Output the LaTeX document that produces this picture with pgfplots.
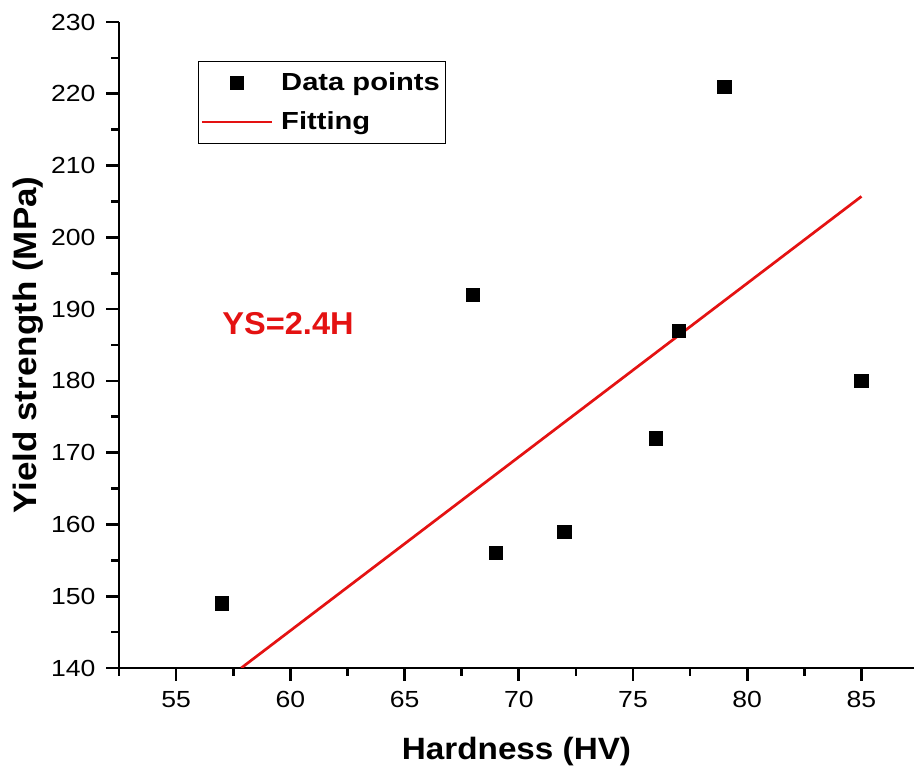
\documentclass[border=0pt]{standalone}
\usepackage{fontspec}
\setmainfont{Liberation Sans}
\newfontfamily\tickfont{Liberation Sans}[FakeStretch=1.14]
\newfontfamily\legfont{Liberation Sans}[FakeStretch=1.18]
\newfontfamily\labfont{Liberation Sans}[FakeStretch=1.08]
\newfontfamily\ysfont{Liberation Sans}[FakeStretch=1.03]
\usepackage{pgfplots}
\pgfplotsset{compat=1.18}
\definecolor{fitred}{RGB}{228,18,18}
\pgfplotsset{
  markleg/.style={legend image code/.code={\draw[mark repeat=2, mark phase=2, ##1] plot coordinates {(0pt,0pt) (17.5pt,0pt) (35pt,0pt)};}},
  lineleg/.style={legend image code/.code={\draw[##1] (0pt,0pt) -- (35pt,0pt);}},
}
\begin{document}
\begin{tikzpicture}
\begin{axis}[
  scale only axis, width=397.5pt, height=323pt,
  xmin=52.5, xmax=87.3, ymin=140, ymax=230,
  axis x line=bottom, axis y line=left,
  axis line style={-, line width=1.4pt},
  xtick={55,60,...,85}, ytick={140,150,...,230},
  minor xtick={52.5,57.5,...,82.5}, minor ytick={145,155,...,225},
  tick align=outside, major tick length=6.3pt, minor tick length=3.8pt,
  every tick/.style={line width=1.3pt, black},
  ticklabel style={font=\tickfont\fontsize{11.65}{14}\selectfont},
  xticklabel style={yshift=-2pt},
  yticklabel style={xshift=-2pt},
  /pgf/number format/assume math mode=true,
  xlabel={Hardness (HV)}, ylabel={Yield strength (MPa)},
  xlabel style={font=\labfont\fontsize{15.4}{18}\selectfont\bfseries,
    at={(axis description cs:0.5,-0.13)}, anchor=center},
  ylabel style={font=\labfont\fontsize{16.2}{19}\selectfont\bfseries,
    at={(axis description cs:-0.1145,0.5)}, anchor=center},
  legend style={at={(rel axis cs:0.0994,0.9396)}, anchor=north west,
    draw=black, line width=0.5pt, inner xsep=1pt, inner ysep=3.5pt,
    font=\legfont\fontsize{12.35}{14}\selectfont\bfseries,
    nodes={inner xsep=2pt, inner ysep=2pt, text depth=0.15em},
    row sep=5pt,
    cells={anchor=west}},
  legend cell align=left,
  /tikz/every odd column/.append style={column sep=2pt},
]
\addplot[only marks, mark=square*, mark size=3.3pt, black, markleg]
  coordinates {(57,149) (68,192) (69,156) (72,159) (76,172) (77,187) (79,221) (85,180)};
\addlegendentry{Data points}
\addplot[fitred, line width=1.35pt, no marks, lineleg]
  coordinates {(57.85,140) (85,205.7)};
\addlegendentry{Fitting}
\node[text=fitred, font=\ysfont\fontsize{15.8}{18}\selectfont\bfseries] at (axis cs:59.9,188) {YS=2.4H};
\coordinate (O) at (rel axis cs:0,0);
\coordinate (T) at (rel axis cs:1,1);
\end{axis}
\pgfresetboundingbox
\path ([xshift=-59.5pt,yshift=-50.5pt]O) rectangle ([yshift=11pt]T);
\end{tikzpicture}
\end{document}
